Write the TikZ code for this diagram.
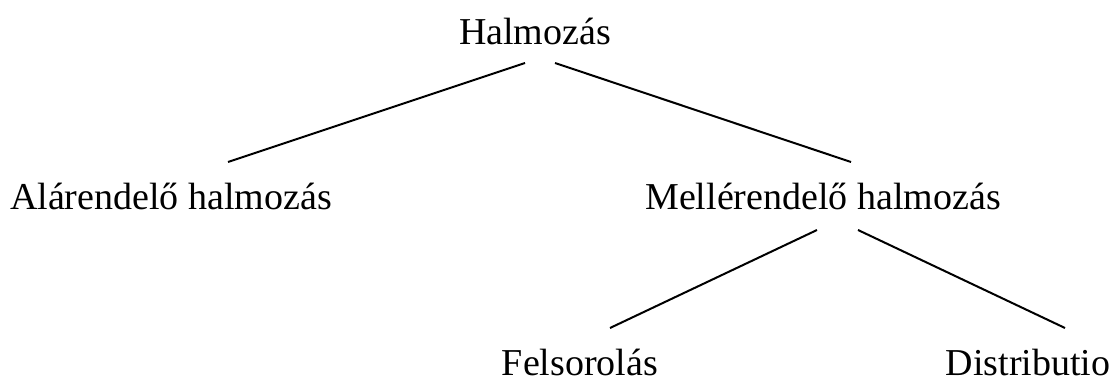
\documentclass[tikz,border=0pt]{standalone}
\usepackage{fontspec}
\setmainfont{Liberation Serif}
\begin{document}
\begin{tikzpicture}[x=1pt,y=-1pt,
  lbl/.style={anchor=base,inner sep=0pt,font=\fontsize{38}{44}\selectfont},
  edge/.style={line width=2pt}]
\useasboundingbox (0,0) rectangle (1110,379);
\node[lbl] (h) at (535,45) {Halmozás};
\node[lbl] (a) at (171,210) {Alárendelő halmozás};
\node[lbl] (m) at (823,210) {Mellérendelő halmozás};
\node[lbl] (f) at (580,375) {Felsorolás};
\node[lbl] (d) at (1028,375) {Distributio};
\coordinate (h1) at (525,63);
\coordinate (h2) at (555,63);
\coordinate (a1) at (228,162);
\coordinate (m0) at (851,162);
\coordinate (m1) at (817,230);
\coordinate (m2) at (858,230);
\coordinate (f1) at (610,328);
\coordinate (d1) at (1065,328);
\draw[edge] (h1) -- (a1);
\draw[edge] (h2) -- (m0);
\draw[edge] (m1) -- (f1);
\draw[edge] (m2) -- (d1);
\end{tikzpicture}
\end{document}
